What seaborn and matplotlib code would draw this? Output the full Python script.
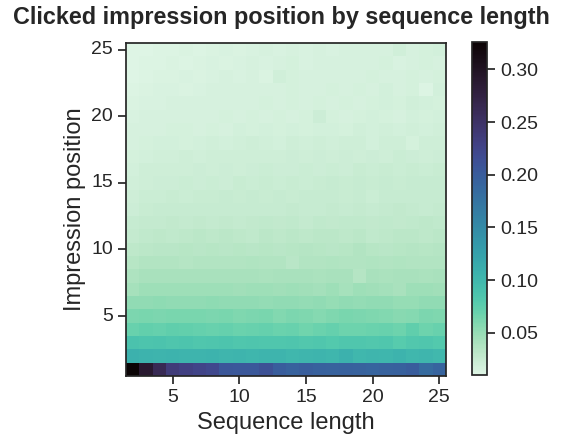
import numpy as np
import pandas as pd
import matplotlib.pyplot as plt
import seaborn as sns

# sequence lengths (columns) and impression positions (rows)
seq_lengths = list(range(2, 26))
positions = list(range(1, 26))

# share of clicks at each impression position, one list per position (1..25)
pos01 = [0.326, 0.290, 0.262, 0.236, 0.230, 0.226, 0.222, 0.206, 0.205, 0.204, 0.212, 0.200, 0.194, 0.198, 0.196, 0.195, 0.196, 0.194, 0.192, 0.195, 0.196, 0.200, 0.185, 0.192]
pos02 = [0.108, 0.106, 0.104, 0.106, 0.105, 0.104, 0.106, 0.103, 0.104, 0.102, 0.105, 0.104, 0.101, 0.103, 0.104, 0.102, 0.108, 0.101, 0.103, 0.102, 0.106, 0.101, 0.103, 0.100]
pos03 = [0.088, 0.086, 0.087, 0.085, 0.086, 0.084, 0.085, 0.086, 0.084, 0.085, 0.083, 0.084, 0.085, 0.082, 0.084, 0.081, 0.083, 0.084, 0.082, 0.083, 0.078, 0.082, 0.084, 0.081]
pos04 = [0.070, 0.072, 0.071, 0.073, 0.072, 0.071, 0.070, 0.071, 0.069, 0.070, 0.071, 0.069, 0.070, 0.066, 0.069, 0.071, 0.067, 0.068, 0.069, 0.070, 0.068, 0.073, 0.067, 0.070]
pos05 = [0.061, 0.062, 0.061, 0.062, 0.063, 0.062, 0.061, 0.062, 0.060, 0.061, 0.062, 0.059, 0.061, 0.060, 0.058, 0.060, 0.062, 0.061, 0.060, 0.059, 0.056, 0.057, 0.061, 0.060]
pos06 = [0.052, 0.053, 0.054, 0.053, 0.052, 0.053, 0.054, 0.052, 0.053, 0.052, 0.051, 0.053, 0.052, 0.051, 0.053, 0.050, 0.052, 0.051, 0.052, 0.053, 0.050, 0.050, 0.052, 0.053]
pos07 = [0.043, 0.046, 0.047, 0.046, 0.047, 0.046, 0.046, 0.047, 0.045, 0.046, 0.046, 0.045, 0.046, 0.045, 0.044, 0.046, 0.043, 0.046, 0.045, 0.044, 0.041, 0.046, 0.047, 0.045]
pos08 = [0.039, 0.041, 0.042, 0.041, 0.042, 0.041, 0.042, 0.041, 0.042, 0.041, 0.040, 0.041, 0.042, 0.041, 0.040, 0.042, 0.041, 0.035, 0.041, 0.040, 0.042, 0.041, 0.040, 0.041]
pos09 = [0.034, 0.036, 0.037, 0.036, 0.035, 0.037, 0.036, 0.037, 0.036, 0.038, 0.037, 0.036, 0.033, 0.036, 0.037, 0.038, 0.036, 0.037, 0.038, 0.037, 0.038, 0.036, 0.037, 0.037]
pos10 = [0.030, 0.032, 0.033, 0.033, 0.034, 0.033, 0.034, 0.033, 0.034, 0.033, 0.034, 0.033, 0.034, 0.035, 0.034, 0.033, 0.034, 0.036, 0.034, 0.033, 0.034, 0.035, 0.034, 0.035]
pos11 = [0.027, 0.029, 0.030, 0.029, 0.030, 0.031, 0.030, 0.031, 0.030, 0.029, 0.031, 0.030, 0.031, 0.030, 0.031, 0.032, 0.030, 0.031, 0.029, 0.030, 0.031, 0.032, 0.030, 0.031]
pos12 = [0.025, 0.027, 0.027, 0.028, 0.027, 0.028, 0.027, 0.028, 0.027, 0.028, 0.029, 0.028, 0.029, 0.027, 0.029, 0.028, 0.029, 0.029, 0.028, 0.029, 0.028, 0.029, 0.030, 0.029]
pos13 = [0.022, 0.024, 0.025, 0.025, 0.026, 0.025, 0.026, 0.025, 0.026, 0.026, 0.025, 0.026, 0.027, 0.026, 0.026, 0.027, 0.026, 0.027, 0.026, 0.027, 0.028, 0.027, 0.026, 0.027]
pos14 = [0.021, 0.023, 0.023, 0.024, 0.023, 0.024, 0.024, 0.025, 0.024, 0.025, 0.024, 0.025, 0.024, 0.025, 0.026, 0.025, 0.024, 0.025, 0.023, 0.026, 0.025, 0.026, 0.025, 0.026]
pos15 = [0.019, 0.021, 0.022, 0.022, 0.023, 0.022, 0.023, 0.022, 0.024, 0.023, 0.024, 0.023, 0.024, 0.023, 0.024, 0.025, 0.024, 0.025, 0.024, 0.025, 0.024, 0.025, 0.026, 0.025]
pos16 = [0.018, 0.020, 0.020, 0.021, 0.021, 0.022, 0.021, 0.022, 0.021, 0.022, 0.023, 0.022, 0.022, 0.023, 0.022, 0.023, 0.022, 0.024, 0.023, 0.024, 0.023, 0.024, 0.023, 0.024]
pos17 = [0.017, 0.018, 0.019, 0.019, 0.020, 0.019, 0.020, 0.021, 0.020, 0.021, 0.020, 0.021, 0.022, 0.021, 0.022, 0.021, 0.022, 0.021, 0.022, 0.021, 0.023, 0.022, 0.021, 0.022]
pos18 = [0.016, 0.017, 0.018, 0.018, 0.017, 0.018, 0.019, 0.018, 0.019, 0.020, 0.019, 0.018, 0.020, 0.019, 0.020, 0.019, 0.021, 0.020, 0.018, 0.021, 0.020, 0.017, 0.021, 0.020]
pos19 = [0.015, 0.016, 0.016, 0.017, 0.017, 0.016, 0.017, 0.016, 0.018, 0.017, 0.018, 0.017, 0.018, 0.017, 0.018, 0.018, 0.017, 0.019, 0.018, 0.019, 0.018, 0.019, 0.018, 0.019]
pos20 = [0.014, 0.015, 0.015, 0.016, 0.016, 0.015, 0.016, 0.017, 0.016, 0.017, 0.016, 0.017, 0.016, 0.017, 0.022, 0.017, 0.016, 0.017, 0.018, 0.017, 0.016, 0.018, 0.017, 0.018]
pos21 = [0.013, 0.014, 0.014, 0.015, 0.015, 0.016, 0.015, 0.016, 0.015, 0.016, 0.017, 0.016, 0.017, 0.016, 0.017, 0.016, 0.017, 0.016, 0.017, 0.018, 0.017, 0.019, 0.018, 0.017]
pos22 = [0.012, 0.013, 0.014, 0.014, 0.013, 0.014, 0.015, 0.016, 0.015, 0.016, 0.015, 0.016, 0.017, 0.015, 0.016, 0.017, 0.016, 0.017, 0.016, 0.018, 0.016, 0.017, 0.012, 0.018]
pos23 = [0.011, 0.012, 0.013, 0.013, 0.014, 0.013, 0.014, 0.015, 0.014, 0.015, 0.013, 0.019, 0.017, 0.016, 0.015, 0.016, 0.015, 0.016, 0.017, 0.016, 0.015, 0.017, 0.016, 0.017]
pos24 = [0.011, 0.012, 0.012, 0.013, 0.012, 0.013, 0.014, 0.013, 0.014, 0.015, 0.014, 0.015, 0.017, 0.014, 0.016, 0.015, 0.016, 0.015, 0.016, 0.017, 0.014, 0.016, 0.017, 0.016]
pos25 = [0.010, 0.011, 0.012, 0.012, 0.013, 0.012, 0.013, 0.014, 0.013, 0.014, 0.015, 0.014, 0.015, 0.014, 0.015, 0.014, 0.016, 0.015, 0.016, 0.015, 0.019, 0.016, 0.017, 0.018]

x_ticks = [5, 10, 15, 20, 25]
y_ticks = [5, 10, 15, 20, 25]
cbar_ticks = [0.05, 0.10, 0.15, 0.20, 0.25, 0.30]

rows = [pos01, pos02, pos03, pos04, pos05, pos06, pos07, pos08, pos09, pos10,
        pos11, pos12, pos13, pos14, pos15, pos16, pos17, pos18, pos19, pos20,
        pos21, pos22, pos23, pos24, pos25]
df = pd.DataFrame(rows, index=positions, columns=seq_lengths)

sns.set_theme(style="ticks", context="notebook")
plt.rcParams["font.family"] = ["Liberation Sans", "DejaVu Sans"]
edge = "#262626"

fig = plt.figure(figsize=(5.62, 4.47), dpi=100)
ax = fig.add_axes([0.2242, 0.1588, 0.5694, 0.745])
cax = fig.add_axes([0.8399, 0.161, 0.0267, 0.745])

sns.heatmap(df, ax=ax, cbar_ax=cax, cmap="mako_r",
            cbar_kws={"ticks": cbar_ticks})
ax.invert_yaxis()

# heatmap removes the frame; put it back
for sp in ax.spines.values():
    sp.set_visible(True)
    sp.set_color(edge)
    sp.set_linewidth(1.25)
cb = ax.collections[0].colorbar
cb.outline.set_visible(True)
cb.outline.set_edgecolor(edge)
cb.outline.set_linewidth(1.25)
cax.yaxis.set_major_formatter(plt.FormatStrFormatter("%.2f"))
cax.tick_params(labelsize=14, length=6, width=1.25, color=edge, labelcolor=edge)

ax.set_xticks([seq_lengths.index(v) + 0.5 for v in x_ticks])
ax.set_xticklabels([str(v) for v in x_ticks], rotation=0)
ax.set_yticks([positions.index(v) + 0.5 for v in y_ticks])
ax.set_yticklabels([str(v) for v in y_ticks], rotation=0)
ax.tick_params(labelsize=14, length=6, width=1.25, color=edge, labelcolor=edge,
               left=True, bottom=True)

ax.set_xlabel("Sequence length", fontsize=17, color=edge)
ax.set_ylabel("Impression position", fontsize=17, color=edge)
fig.suptitle("Clicked impression position by sequence length",
             x=0.5, y=0.96, va="center", fontsize=16.8, fontweight="bold", color=edge)

fig.savefig("out.png", dpi=100)
